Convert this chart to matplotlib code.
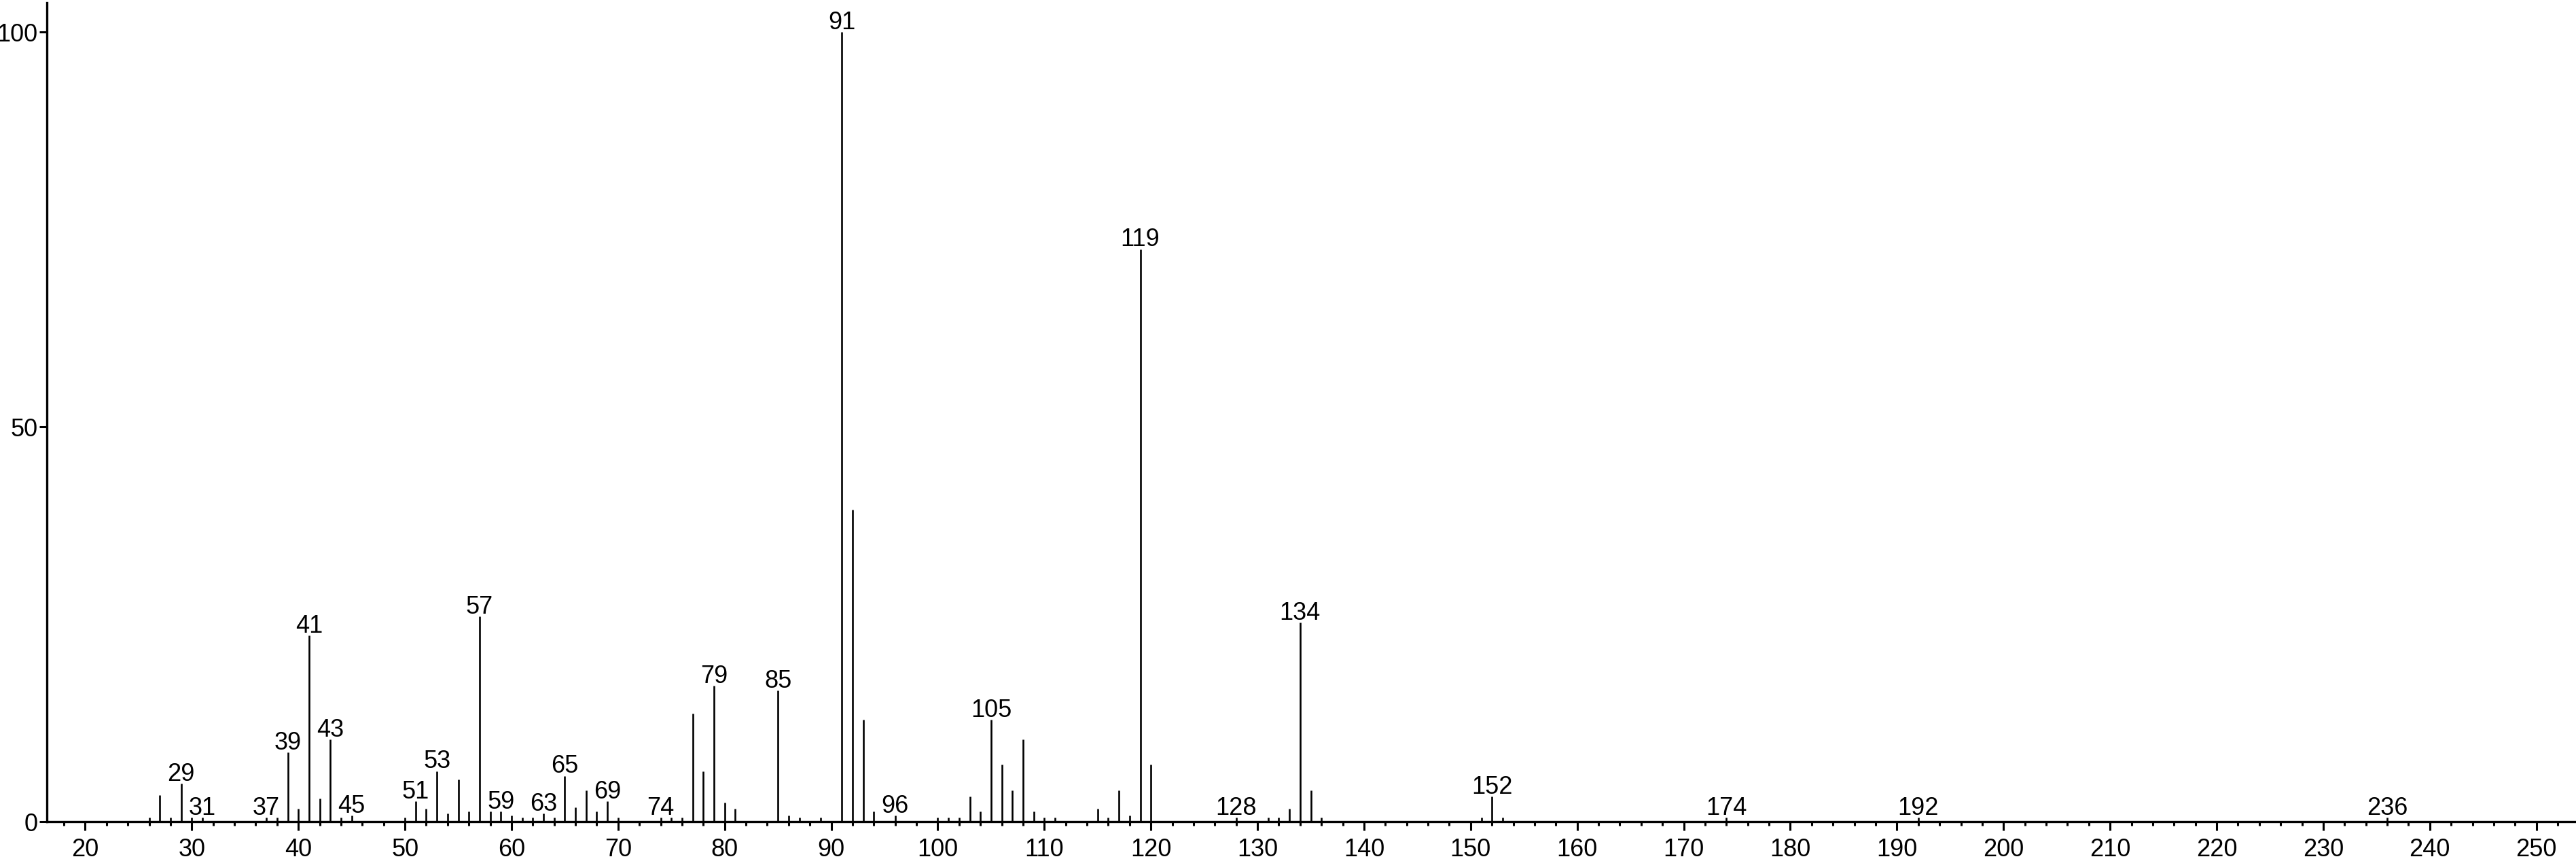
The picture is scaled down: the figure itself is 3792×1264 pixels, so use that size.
import matplotlib
matplotlib.use('Agg')
import matplotlib.pyplot as plt
from matplotlib.ticker import MultipleLocator

plt.rcParams['font.family'] = ['Liberation Sans', 'DejaVu Sans']

# m/z and relative intensity
mz = [26, 27, 28, 29, 30, 31, 37, 38, 39, 40, 41, 42, 43, 44, 45,
      50, 51, 52, 53, 54, 55, 56, 57, 58, 59, 60, 61, 62, 63, 64,
      65, 66, 67, 68, 69, 70, 74, 75, 76, 77, 78, 79, 80, 81,
      85, 86, 87, 89, 91, 92, 93, 94, 96,
      100, 101, 102, 103, 104, 105, 106, 107, 108, 109, 110, 111,
      115, 116, 117, 118, 119, 120, 128, 131, 132, 133, 134, 135, 136,
      151, 152, 153, 174, 192, 236]
intensity = [0.5, 3.4, 0.5, 4.8, 0.5, 0.5, 0.5, 0.5, 8.8, 1.6, 23.6, 2.9, 10.4, 0.5, 0.8,
             0.5, 2.6, 1.6, 6.4, 1.0, 5.3, 1.3, 26.0, 1.3, 1.3, 0.8, 0.5, 0.5, 1.0, 0.5,
             5.8, 1.8, 4.0, 1.3, 2.6, 0.5, 0.5, 0.5, 0.5, 13.7, 6.4, 17.2, 2.4, 1.6,
             16.6, 0.8, 0.5, 0.5, 100.0, 39.5, 12.9, 1.3, 0.8,
             0.5, 0.5, 0.5, 3.2, 1.3, 12.9, 7.2, 4.0, 10.4, 1.3, 0.5, 0.5,
             1.6, 0.5, 4.0, 0.8, 72.5, 7.2, 0.5, 0.5, 0.5, 1.6, 25.2, 4.0, 0.5,
             0.5, 3.2, 0.5, 0.5, 0.5, 0.5]

labeled = [29, 31, 37, 39, 41, 43, 45, 51, 53, 57, 59, 63, 65, 69, 74, 79, 85,
           91, 96, 105, 119, 128, 134, 152, 174, 192, 236]

fig = plt.figure(figsize=(37.92, 12.64), dpi=100)
ax = fig.add_axes([0.0182, 0.0435, 0.9813, 0.9533])

ax.vlines(mz, 0, intensity, colors='black', lw=1.9)

height = dict(zip(mz, intensity))
for m in labeled:
    ax.annotate(str(m), (m, height[m]), xytext=(0, 3), textcoords='offset points',
                ha='center', va='baseline', fontsize=26)

ax.set_xlim(16.4, 253.6)
ax.set_ylim(0, 103.7)

ax.spines['top'].set_visible(False)
ax.spines['right'].set_visible(False)
ax.spines['left'].set_linewidth(2.4)
ax.spines['bottom'].set_linewidth(2.4)

ax.xaxis.set_major_locator(MultipleLocator(10))
ax.xaxis.set_minor_locator(MultipleLocator(2))
ax.set_yticks([0, 50, 100])
ax.tick_params(axis='x', which='major', length=9, width=2.2, labelsize=26, pad=8)
ax.tick_params(axis='x', which='minor', length=4.5, width=2.2)
ax.tick_params(axis='y', length=8, width=2.2, labelsize=26, pad=2)

fig.savefig('out.png', dpi=100)
